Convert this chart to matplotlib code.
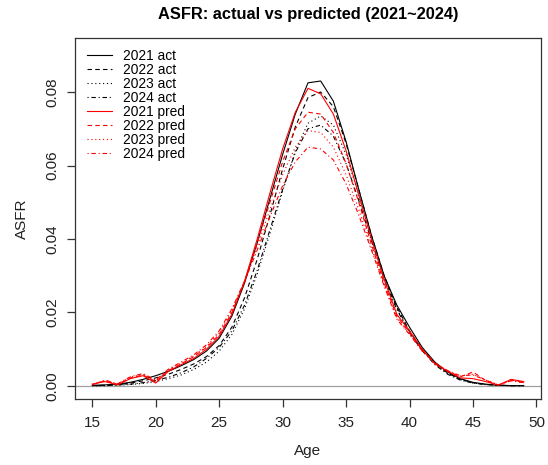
import matplotlib
matplotlib.use('Agg')
import matplotlib.pyplot as plt
import numpy as np

plt.rcParams['font.family'] = ['Liberation Sans', 'DejaVu Sans']

ages = list(range(15, 50))

act_2021 = [0.0002, 0.0003, 0.0005, 0.0010, 0.0018, 0.0028, 0.0040, 0.0055, 0.0072, 0.0095,
            0.0130, 0.0190, 0.0280, 0.0390, 0.0510, 0.0630, 0.0740, 0.0825, 0.0830, 0.0775,
            0.0665, 0.0535, 0.0410, 0.0300, 0.0220, 0.0160, 0.0105, 0.0065, 0.0038, 0.0020,
            0.0010, 0.0005, 0.0002, 0.0001, 0.0001]
act_2022 = [0.0001, 0.0002, 0.0004, 0.0008, 0.0014, 0.0022, 0.0032, 0.0045, 0.0060, 0.0080,
            0.0110, 0.0160, 0.0240, 0.0345, 0.0465, 0.0590, 0.0705, 0.0785, 0.0800, 0.0760,
            0.0660, 0.0535, 0.0410, 0.0300, 0.0215, 0.0150, 0.0100, 0.0062, 0.0035, 0.0018,
            0.0009, 0.0004, 0.0002, 0.0001, 0.0001]
act_2023 = [0.0001, 0.0001, 0.0002, 0.0004, 0.0007, 0.0012, 0.0020, 0.0030, 0.0045, 0.0065,
            0.0095, 0.0140, 0.0210, 0.0305, 0.0415, 0.0530, 0.0640, 0.0715, 0.0735, 0.0710,
            0.0630, 0.0520, 0.0400, 0.0295, 0.0210, 0.0148, 0.0098, 0.0060, 0.0034, 0.0018,
            0.0008, 0.0004, 0.0002, 0.0001, 0.0001]
act_2024 = [0.0001, 0.0001, 0.0003, 0.0005, 0.0009, 0.0015, 0.0024, 0.0036, 0.0052, 0.0075,
            0.0105, 0.0150, 0.0220, 0.0315, 0.0425, 0.0535, 0.0635, 0.0700, 0.0710, 0.0680,
            0.0605, 0.0505, 0.0395, 0.0290, 0.0208, 0.0145, 0.0096, 0.0058, 0.0032, 0.0016,
            0.0008, 0.0004, 0.0002, 0.0001, 0.0001]

pred_2021 = [0.0005, 0.0012, 0.0003, 0.0020, 0.0028, 0.0008, 0.0040, 0.0058, 0.0075, 0.0100,
             0.0135, 0.0195, 0.0285, 0.0400, 0.0525, 0.0645, 0.0745, 0.0810, 0.0795, 0.0740,
             0.0640, 0.0520, 0.0400, 0.0290, 0.0195, 0.0150, 0.0100, 0.0060, 0.0040, 0.0022,
             0.0020, 0.0012, 0.0002, 0.0018, 0.0012]
pred_2022 = [0.0004, 0.0014, 0.0004, 0.0022, 0.0030, 0.0012, 0.0042, 0.0060, 0.0080, 0.0105,
             0.0140, 0.0200, 0.0285, 0.0390, 0.0500, 0.0610, 0.0700, 0.0745, 0.0740, 0.0690,
             0.0605, 0.0500, 0.0385, 0.0280, 0.0190, 0.0145, 0.0098, 0.0062, 0.0040, 0.0025,
             0.0038, 0.0015, 0.0003, 0.0016, 0.0010]
pred_2023 = [0.0003, 0.0015, 0.0005, 0.0024, 0.0032, 0.0014, 0.0044, 0.0062, 0.0082, 0.0108,
             0.0145, 0.0205, 0.0285, 0.0380, 0.0480, 0.0575, 0.0650, 0.0695, 0.0690, 0.0650,
             0.0575, 0.0480, 0.0375, 0.0275, 0.0185, 0.0142, 0.0096, 0.0062, 0.0041, 0.0027,
             0.0032, 0.0016, 0.0003, 0.0015, 0.0010]
pred_2024 = [0.0003, 0.0016, 0.0006, 0.0025, 0.0034, 0.0016, 0.0046, 0.0065, 0.0085, 0.0112,
             0.0150, 0.0210, 0.0285, 0.0370, 0.0460, 0.0545, 0.0610, 0.0650, 0.0645, 0.0615,
             0.0550, 0.0465, 0.0370, 0.0272, 0.0182, 0.0140, 0.0095, 0.0062, 0.0042, 0.0028,
             0.0030, 0.0016, 0.0003, 0.0014, 0.0009]

years = ['2021', '2022', '2023', '2024']
actual = [act_2021, act_2022, act_2023, act_2024]
predicted = [pred_2021, pred_2022, pred_2023, pred_2024]

# R lty 1..4 : solid, dashed, dotted, dotdash
styles = ['-', (0, (4, 3)), (0, (1, 2.5)), (0, (1, 2.5, 4, 2.5))]

fig = plt.figure(figsize=(5.48, 4.65), dpi=100)
ax = fig.add_axes([75 / 548, 66 / 465, 466 / 548, 361 / 465])

ax.axhline(0, color='#a0a0a0', lw=0.9, zorder=1)

for yr, vals, ls in zip(years, actual, styles):
    ax.plot(ages, vals, color='black', lw=0.8, linestyle=ls, label=f'{yr} act')
for yr, vals, ls in zip(years, predicted, styles):
    ax.plot(ages, vals, color='red', lw=0.8, linestyle=ls, label=f'{yr} pred')

ax.set_xlim(13.64, 50.36)
ax.set_ylim(-0.00354, 0.0947)
ax.set_xticks([15, 20, 25, 30, 35, 40, 45, 50])
ax.set_yticks([0.00, 0.02, 0.04, 0.06, 0.08])
ax.set_yticklabels(['0.00', '0.02', '0.04', '0.06', '0.08'], rotation=90, va='center')

for s in ax.spines.values():
    s.set_color('#333333')
    s.set_linewidth(0.9)
ax.tick_params(direction='out', length=6, width=0.9, color='#333333',
               labelsize=11, labelcolor='#222222')
ax.tick_params(axis='x', pad=6)
ax.tick_params(axis='y', pad=5)

ax.set_title('ASFR: actual vs predicted (2021~2024)', fontsize=11.8,
             fontweight='bold', pad=14)
ax.set_xlabel('Age', fontsize=11, labelpad=10, color='#222222')
ax.set_ylabel('ASFR', fontsize=11, labelpad=12, color='#222222')

ax.legend(loc='upper left', bbox_to_anchor=(12 / 466, 1 - 11 / 361), frameon=False,
          fontsize=9.9, handlelength=1.8, handletextpad=0.85, labelspacing=0.0,
          borderpad=0, borderaxespad=0)

plt.savefig('out.png', dpi=100)
plt.close(fig)
